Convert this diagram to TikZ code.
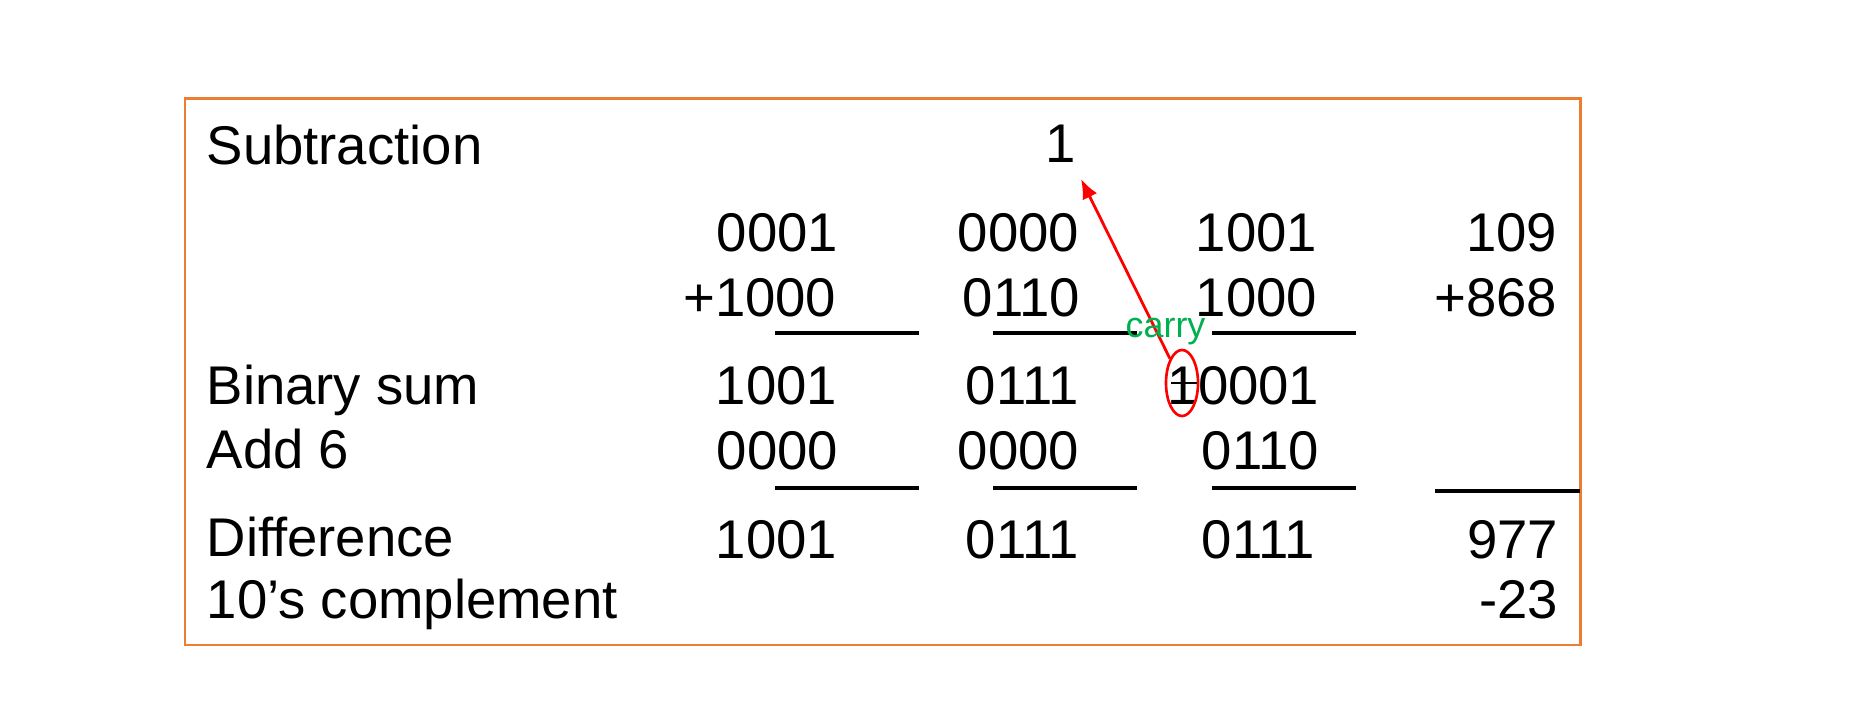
\documentclass[tikz,border=0pt]{standalone}
\usepackage{fontspec}
\setmainfont{Liberation Sans}
\usepackage{tikz}
\usetikzlibrary{arrows.meta,shapes.geometric}
\definecolor{borange}{RGB}{237, 125, 49}
\definecolor{cgreen}{RGB}{0, 176, 80}
\definecolor{cred}{RGB}{255, 0, 0}
\def\boxCol{borange}
\def\carryCol{cgreen}
\def\markCol{cred}
\tikzset{>={Latex[length=5.6pt, width=4.6pt]}}
\tikzset{
  txt/.style={inner sep=0pt, font=\fontsize{15.5}{18}\selectfont},
  num/.style={txt, anchor=base west},
  numr/.style={txt, anchor=base east},
  sumrule/.style={line width=1.15pt},
}

\begin{document}
\begin{tikzpicture}[x=0.01cm, y=-0.01cm]
  \useasboundingbox (0,0) rectangle (1852,704);
  \draw[draw = \boxCol, line width=0.85pt] (185,99) rectangle (1580,645);
  % row labels
  \node[num] (lsub) at (206,165){Subtraction};
  \node[num] (lbin) at (206,405){Binary sum};
  \node[num] (ladd) at (206,469){Add 6};
  \node[num] (ldif) at (206,557){Difference};
  \node[num] (lcmp) at (206,618){10’s complement};
  % carried digit
  \node[num] (one) at (1045,163){1};
  % operands
  \node[num] (a1) at (716,252){0001};
  \node[num] (a2) at (957,252){0000};
  \node[num] (a3) at (1195,252){1001};
  \node[numr] (a4) at (1558,252){109};
  \node[numr] (b1) at (837,317){+1000};
  \node[num] (b2) at (962,317){0110};
  \node[num] (b3) at (1195,317){1000};
  \node[numr] (b4) at (1558,317){+868};
  % binary sum and correction
  \node[num] (s1) at (715,405){1001};
  \node[num] (s2) at (965,405){0111};
  \node[numr] (s3) at (1320,405){10001};
  \node[num] (c1) at (716,470){0000};
  \node[num] (c2) at (957,470){0000};
  \node[num] (c3) at (1201,470){0110};
  % result
  \node[num] (d1) at (715,558){1001};
  \node[num] (d2) at (965,558){0111};
  \node[num] (d3) at (1201,558){0111};
  \node[numr] (d4) at (1559,558){977};
  \node[numr] (d5) at (1559,619){-23};
  % sum rules
  \foreach \xa/\xb in {775/919, 993/1137, 1212/1356}{
    \draw[sumrule] (\xa,333) -- (\xb,333);
    \draw[sumrule] (\xa,488) -- (\xb,488);
  }
  \draw[sumrule] (1435,491) -- (1580,491);
  % carry out of the top nibble
  \node[ellipse, draw = \markCol, line width=0.75pt, inner sep=0pt,
        minimum width=0.32cm, minimum height=0.66cm] (cy) at (1182,383){};
  \draw[line width=0.6pt] (1171,383) -- (1197,383);
  \coordinate (tip) at (1081,179);
  \draw[->, draw = \markCol, fill = \markCol, line width=0.8pt] (cy) -- (tip);
  \node[anchor=base west, inner sep=0pt, text = \carryCol,
        font=\fontsize{10.2}{12}\selectfont] (carry) at (1125,338){carry};
\end{tikzpicture}
\end{document}
